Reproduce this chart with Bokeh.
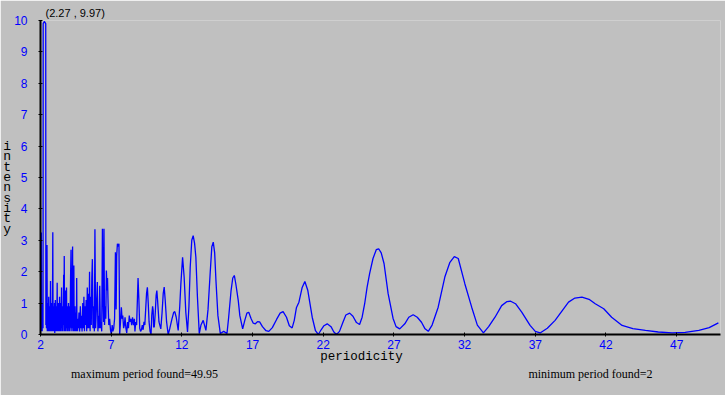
from bokeh.plotting import figure
from bokeh.models import FixedTicker, Range1d, Title, LinearAxis
from bokeh.embed import file_html
from bokeh.resources import INLINE

# dense short-period part (2 .. 4.6)
period_a = [
    2.00, 2.02, 2.04, 2.06, 2.08, 2.10, 2.12, 2.14, 2.16, 2.18,
    2.19, 2.27, 2.37, 2.38, 2.40, 2.42, 2.44, 2.46, 2.48, 2.50,
    2.52, 2.54, 2.56, 2.58, 2.60, 2.62, 2.64, 2.66, 2.68, 2.70,
    2.71, 2.73, 2.75, 2.77, 2.79, 2.81, 2.83, 2.85, 2.87, 2.89,
    2.91, 2.93, 2.95, 2.97, 2.99, 3.01, 3.03, 3.05, 3.07, 3.09,
    3.11, 3.13, 3.15, 3.18, 3.20, 3.22, 3.24, 3.26, 3.28, 3.30,
    3.32, 3.35, 3.37, 3.39, 3.41, 3.43, 3.45, 3.47, 3.49, 3.51,
    3.53, 3.55, 3.57, 3.59, 3.61, 3.64, 3.66, 3.68, 3.70, 3.72,
    3.74, 3.77, 3.79, 3.81, 3.84, 3.86, 3.88, 3.90, 3.92, 3.94,
    3.96, 3.98, 4.00, 4.02, 4.04, 4.06, 4.08, 4.10, 4.13, 4.16,
    4.18, 4.20, 4.22, 4.24, 4.27, 4.29, 4.31, 4.33, 4.36, 4.38,
    4.40, 4.42, 4.44, 4.46, 4.48, 4.50, 4.52, 4.54, 4.56, 4.58,
    4.60,
]
intensity_a = [
    0.3, 0.9, 0.1, 3.25, 0.2, 1.0, 0.1, 0.8, 0.3, 0.2,
    9.9, 9.97, 9.9, 0.3, 1.1, 0.2, 1.3, 2.85, 0.1, 0.9,
    0.2, 1.0, 0.1, 1.2, 0.2, 0.7, 0.1, 0.9, 0.2, 1.1,
    1.7, 0.1, 0.8, 0.2, 1.0, 0.1, 0.7, 1.1, 3.26, 0.1,
    0.9, 0.2, 0.6, 0.1, 1.0, 0.05, 0.8, 1.1, 0.1, 0.7,
    0.2, 0.9, 0.1, 1.65, 0.2, 0.8, 0.1, 1.0, 0.2, 0.6,
    0.1, 1.2, 0.2, 0.8, 0.1, 1.0, 0.2, 0.7, 1.5, 0.1,
    0.9, 0.2, 0.8, 0.1, 0.6, 1.9, 0.3, 2.5, 0.1, 0.7,
    0.2, 1.4, 0.1, 0.8, 1.5, 0.2, 0.6, 0.1, 0.9, 0.2,
    0.5, 1.0, 0.1, 0.7, 0.2, 0.9, 0.1, 0.6, 1.9, 2.7,
    0.2, 0.8, 0.1, 1.0, 2.8, 0.2, 0.7, 0.1, 2.2, 0.2,
    0.8, 0.1, 0.9, 0.2, 0.6, 0.1, 0.7, 0.3, 1.8, 0.1,
    0.5,
]

# spiky middle part (4.6 .. 10)
period_b = [
    4.62, 4.64, 4.68, 4.72, 4.77, 4.82, 4.86, 4.90, 4.94, 4.99,
    5.04, 5.07, 5.11, 5.15, 5.19, 5.23, 5.27, 5.31, 5.35, 5.39,
    5.43, 5.47, 5.51, 5.55, 5.59, 5.63, 5.67, 5.71, 5.76, 5.81,
    5.85, 5.90, 5.95, 6.02, 6.06, 6.11, 6.15, 6.19, 6.24, 6.29,
    6.33, 6.38, 6.42, 6.46, 6.49, 6.53, 6.58, 6.62, 6.66, 6.71,
    6.74, 6.78, 6.83, 6.89, 6.95, 7.01, 7.07, 7.12, 7.18, 7.24,
    7.30, 7.35, 7.39, 7.44, 7.50, 7.55, 7.60, 7.66, 7.72, 7.77,
    7.82, 7.88, 7.93, 7.98, 8.04, 8.10, 8.16, 8.22, 8.28, 8.33,
    8.39, 8.45, 8.51, 8.58, 8.64, 8.68, 8.74, 8.80, 8.86, 8.90,
    8.96, 9.02, 9.08, 9.14, 9.20, 9.26, 9.32, 9.38, 9.44, 9.50,
    9.56, 9.62, 9.68, 9.75, 9.82, 9.87, 9.93, 9.97, 10.00,
]
intensity_b = [
    0.1, 0.5, 0.2, 0.7, 0.1, 0.9, 0.2, 0.6, 0.1, 1.0,
    0.2, 1.2, 0.1, 0.9, 0.3, 1.1, 0.1, 1.5, 0.2, 1.3,
    0.2, 2.0, 0.1, 1.2, 0.3, 1.8, 2.4, 0.2, 0.9, 0.1,
    3.35, 0.2, 0.8, 1.67, 0.1, 0.6, 0.2, 1.55, 0.2, 0.4,
    0.1, 3.37, 1.2, 0.4, 3.37, 0.3, 0.9, 0.5, 2.04, 1.4,
    1.8, 1.0, 0.3, 0.5, 0.15, 0.0, 0.3, 0.1, 0.2, 0.5,
    2.62, 0.8, 2.5, 2.89, 2.8, 2.89, 0.0, 0.4, 0.87, 0.5,
    0.6, 0.2, 0.3, 0.55, 0.2, 0.05, 0.4, 0.2, 0.6, 0.4,
    0.5, 0.3, 0.55, 0.3, 0.5, 0.1, 0.4, 0.3, 1.2, 1.8,
    1.1, 0.2, 0.1, 0.15, 0.3, 0.15, 0.4, 0.3, 0.8, 1.3,
    1.5, 1.0, 0.4, 0.1, 0.0, 0.6, 0.9, 0.76, 0.23,
]

# smooth long-period part (10 .. 49.95)
period_c = [
    10.05, 10.12, 10.18, 10.23, 10.28, 10.38, 10.51, 10.60, 10.68, 10.75, 10.82, 10.92, 11.03, 11.15,
    11.30, 11.42, 11.50, 11.60, 11.74, 11.85, 11.93, 12.05, 12.16, 12.28, 12.40, 12.50, 12.59, 12.70,
    12.80, 12.90, 12.99, 13.10, 13.23, 13.35, 13.51, 13.60, 13.70, 13.85, 14.00, 14.12, 14.22, 14.32,
    14.41, 14.55, 14.72, 14.96, 15.19, 15.30, 15.48, 15.60, 15.71, 15.82, 15.99, 16.10, 16.30, 16.45,
    16.60, 16.73, 16.90, 17.05, 17.20, 17.35, 17.50, 17.70, 17.95, 18.15, 18.40, 18.70, 18.95, 19.16,
    19.40, 19.60, 19.80, 19.95, 20.10, 20.28, 20.51, 20.70, 20.91, 21.22, 21.45, 21.65, 21.85, 22.05,
    22.28, 22.55, 22.75, 22.94, 23.15, 23.40, 23.60, 23.87, 24.10, 24.35, 24.57, 24.75, 24.93, 25.10,
    25.28, 25.52, 25.75, 25.92, 26.10, 26.30, 26.59, 26.94, 27.15, 27.41, 27.77, 28.05, 28.36, 28.65,
    28.95, 29.20, 29.43, 29.70, 30.13, 30.60, 30.96, 31.27, 31.55, 32.02, 32.50, 32.90, 33.33, 33.70,
    34.15, 34.62, 35.00, 35.26, 35.60, 36.04, 36.63, 37.00, 37.34, 37.85, 38.40, 39.35, 39.80, 40.30,
    40.80, 41.24, 41.84, 42.40, 43.14, 43.90, 44.79, 45.70, 46.68, 47.60, 48.57, 49.30, 49.95,
]
intensity_c = [
    0.25, 0.7, 1.25, 1.4, 1.1, 0.4, 0.18, 0.7, 1.3, 1.51, 1.1, 0.4, 0.0, 0.2,
    0.5, 0.7, 0.73, 0.55, 0.13, 0.9, 1.62, 2.46, 1.83, 0.7, 0.08, 0.9, 2.14, 3.0,
    3.15, 2.9, 2.46, 1.2, 0.03, 0.3, 0.45, 0.3, 0.13, 0.8, 1.94, 2.8, 2.94, 2.6,
    1.72, 0.6, 0.03, 0.1, 0.03, 0.5, 1.40, 1.8, 1.88, 1.6, 1.08, 0.6, 0.18, 0.45,
    0.68, 0.71, 0.5, 0.36, 0.34, 0.41, 0.40, 0.25, 0.12, 0.10, 0.22, 0.48, 0.68, 0.73,
    0.55, 0.28, 0.21, 0.45, 0.85, 1.03, 1.5, 1.69, 1.4, 0.55, 0.12, 0.0, 0.15, 0.28,
    0.34, 0.25, 0.08, 0.0, 0.1, 0.4, 0.62, 0.68, 0.58, 0.38, 0.32, 0.55, 0.98, 1.5,
    1.94, 2.42, 2.70, 2.73, 2.6, 2.26, 1.3, 0.51, 0.25, 0.18, 0.34, 0.55, 0.63, 0.55,
    0.39, 0.18, 0.10, 0.3, 0.87, 1.83, 2.3, 2.48, 2.42, 1.61, 0.87, 0.3, 0.05, 0.25,
    0.55, 0.92, 1.05, 1.06, 0.98, 0.71, 0.29, 0.1, 0.05, 0.2, 0.45, 1.03, 1.16, 1.19,
    1.12, 0.98, 0.82, 0.55, 0.29, 0.19, 0.13, 0.08, 0.05, 0.07, 0.13, 0.22, 0.37,
]

period = period_a + period_b + period_c
intensity = intensity_a + intensity_b + intensity_c

x_ticks = [2, 7, 12, 17, 22, 27, 32, 37, 42, 47]
y_ticks = [0, 1, 2, 3, 4, 5, 6, 7, 8, 9, 10]

peak_text = "(2.27 , 9.97)"
x_title = "periodicity"
y_title = "\n\ni\nn\nt\ne\nn\ns\ni\nt\ny"
max_text = "maximum period found=49.95"
min_text = "minimum period found=2"

BG = "#c0c0c0"
BLUE = "#0000ff"

p = figure(width=725, height=395, output_backend="svg", toolbar_location=None,
           x_range=Range1d(2, 50.1), y_range=Range1d(0, 10),
           min_border_left=40, min_border_right=5, min_border_top=20, min_border_bottom=61)
p.background_fill_color = BG
p.border_fill_color = BG
p.outline_line_color = None
p.grid.visible = False

p.line(period, intensity, line_color=BLUE, line_width=1.3)

for ax in (p.xaxis[0], p.yaxis[0]):
    ax.axis_line_color = "black"
    ax.axis_line_width = 2
    ax.major_tick_line_color = "black"
    ax.major_tick_in = 2
    ax.major_tick_out = 2
    ax.minor_tick_line_color = None
    ax.major_label_text_color = BLUE
    ax.major_label_text_font = "Liberation Sans"
    ax.major_label_text_font_size = "12px"

p.xaxis[0].ticker = FixedTicker(ticks=x_ticks)
p.yaxis[0].ticker = FixedTicker(ticks=y_ticks)
p.xaxis[0].major_label_standoff = 3
p.yaxis[0].major_label_standoff = 11

yax = p.yaxis[0]
yax.axis_label = y_title
yax.axis_label_orientation = "horizontal"
yax.axis_label_standoff = 0
yax.axis_label_text_font = "Liberation Mono"
yax.axis_label_text_font_size = "13px"
yax.axis_label_text_font_style = "normal"
yax.axis_label_text_color = "black"
yax.axis_label_text_line_height = 0.69

p.add_layout(Title(text=peak_text, align="left", offset=5, standoff=3,
                   text_font="Liberation Sans", text_font_size="11px",
                   text_font_style="normal", text_color="black"), "above")


def text_row(tick_pos, texts, font, size, standoff):
    row = LinearAxis(ticker=FixedTicker(ticks=tick_pos),
                     major_label_overrides=dict(zip(tick_pos, texts)))
    row.axis_line_color = None
    row.major_tick_line_color = None
    row.minor_tick_line_color = None
    row.major_tick_in = 0
    row.major_tick_out = 0
    row.major_label_standoff = standoff
    row.major_label_text_font = font
    row.major_label_text_font_size = size
    row.major_label_text_color = "black"
    return row


# axis title row (centred at px ~361) and the summary row below it
p.add_layout(text_row([24.7], [x_title], "Liberation Mono", "12.5px", -2), "below")
p.add_layout(text_row([9.36, 40.9], [max_text, min_text], "Liberation Serif", "12px", 0), "below")

open("out.html", "w").write(file_html(p, INLINE))
